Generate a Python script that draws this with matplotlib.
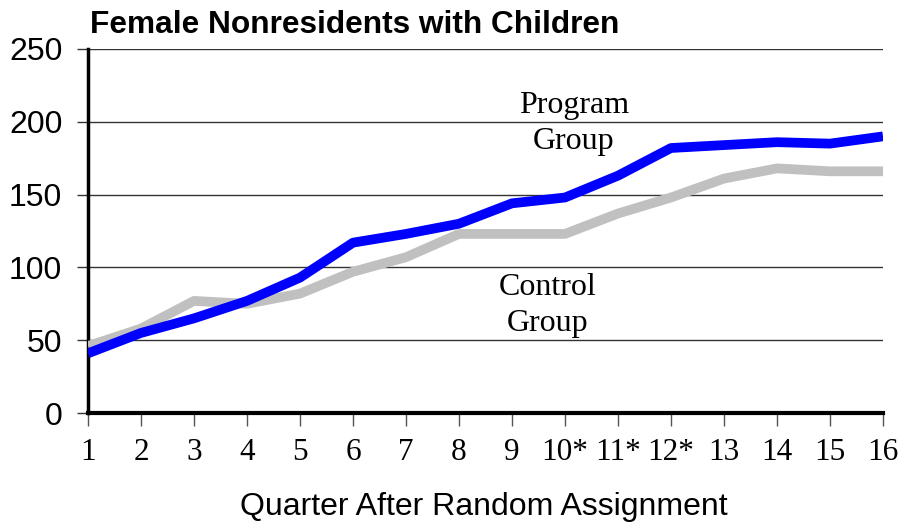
import matplotlib
matplotlib.use('Agg')
import matplotlib.pyplot as plt

# Quarter after random assignment
quarters = list(range(1, 17))
tick_labels = ['1', '2', '3', '4', '5', '6', '7', '8', '9',
               '10*', '11*', '12*', '13', '14', '15', '16']

# Values
program = [41, 55, 65, 77, 93, 117, 123, 130, 144, 148, 163, 182, 184, 186, 185, 190]
control = [46, 58, 77, 75, 82, 97, 107, 123, 123, 123, 137, 148, 161, 168, 166, 166]

fig = plt.figure(figsize=(9, 5.25), dpi=100)
ax = fig.add_axes([0.0978, 0.2133, 0.8833, 0.6934])

ax.plot(quarters, control, color='#c0c0c0', lw=7, solid_capstyle='butt', zorder=3)
ax.plot(quarters, program, color='#0000ff', lw=7, solid_capstyle='butt', zorder=4)

ax.set_xlim(1, 16)
ax.set_ylim(0, 250)
ax.set_yticks([0, 50, 100, 150, 200, 250])
ax.set_xticks(quarters)
ax.set_xticklabels(tick_labels, fontfamily='Liberation Serif', fontsize=22.5)
for lbl in ax.get_yticklabels():
    lbl.set_fontfamily('Liberation Sans')
    lbl.set_fontsize(23)

ax.grid(axis='y', color='#333333', lw=1, zorder=1)
ax.tick_params(axis='y', length=8, width=1, color='#333333', pad=10.5)
ax.tick_params(axis='x', length=9, width=1, color='#555555', pad=9)

for s in ['top', 'right']:
    ax.spines[s].set_visible(False)
ax.spines['left'].set_linewidth(2.5)
ax.spines['bottom'].set_linewidth(3)
ax.spines['bottom'].set_zorder(5)

ax.text(10.17, 199, 'Program\nGroup', ha='center', va='center',
        fontfamily='Liberation Serif', fontsize=23, linespacing=1.32)
ax.text(9.68, 74, 'Control\nGroup', ha='center', va='center',
        fontfamily='Liberation Serif', fontsize=23, linespacing=1.32)

fig.text(90 / 900, 1 - 33 / 525, 'Female Nonresidents with Children',
         fontfamily='Liberation Sans', fontweight='bold', fontsize=22.8,
         ha='left', va='baseline')
fig.text(484 / 900, 1 - 507 / 525, 'Quarter After Random Assignment',
         fontfamily='Liberation Sans', fontsize=23, ha='center', va='center')

fig.savefig('out.png', dpi=100)
